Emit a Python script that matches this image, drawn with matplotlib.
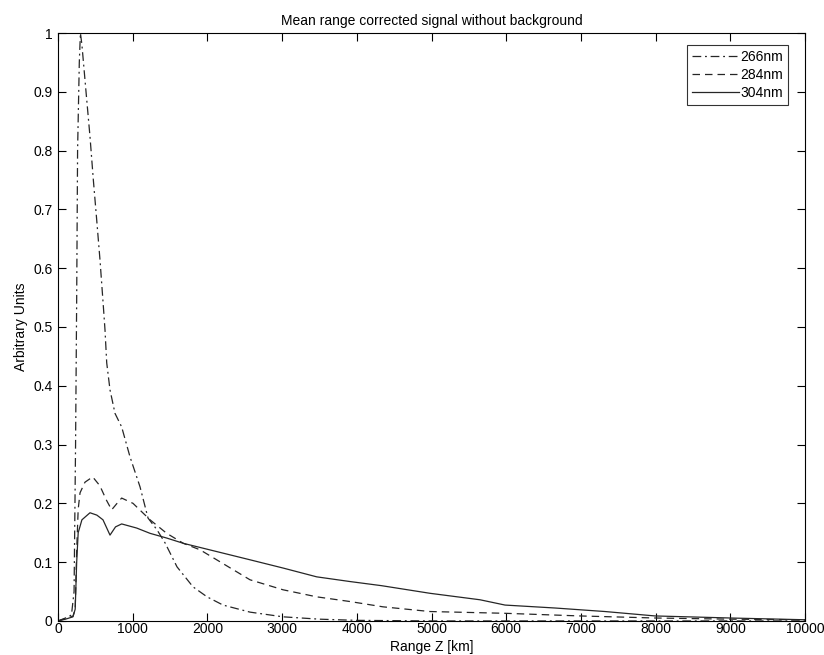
import matplotlib.pyplot as plt

plt.rcParams['font.family'] = ['Liberation Sans', 'DejaVu Sans']

# range Z [km] and mean signal
z266 = [0, 100, 180, 215, 235, 250, 262, 285, 300, 320, 375, 428, 473, 518, 562,
        607, 629, 652, 696, 763, 852, 964, 1098, 1205, 1325, 1432, 1593, 1807,
        1995, 2209, 2570, 3012, 3500, 4000, 5000, 6000, 7000, 8000, 9000, 10000]
s266 = [0.0, 0.005, 0.01, 0.05, 0.3, 0.55, 0.8, 0.95, 1.0, 0.98, 0.9, 0.824,
        0.75, 0.682, 0.614, 0.535, 0.495, 0.439, 0.393, 0.353, 0.33, 0.279,
        0.228, 0.175, 0.155, 0.133, 0.092, 0.058, 0.041, 0.027, 0.015, 0.007,
        0.003, 0.001, 0.0, 0.0, 0.0, 0.0, 0.0, 0.0]

z284 = [0, 100, 200, 230, 250, 270, 295, 361, 464, 560, 650, 718, 790, 852, 1004,
        1232, 1455, 1678, 1901, 2124, 2570, 3012, 3463, 3909, 4350, 4980, 5984,
        6988, 7992, 9000, 10000]
s284 = [0.0, 0.004, 0.008, 0.02, 0.12, 0.19, 0.218, 0.236, 0.245, 0.23, 0.205,
        0.189, 0.2, 0.209, 0.2, 0.172, 0.149, 0.132, 0.121, 0.104, 0.07, 0.053,
        0.041, 0.033, 0.024, 0.016, 0.013, 0.0085, 0.005, 0.003, 0.002]

z304 = [0, 100, 200, 230, 250, 270, 320, 428, 520, 602, 696, 770, 852, 1053, 1232,
        1455, 1678, 2124, 2570, 3012, 3463, 3909, 4330, 4980, 5649, 5984, 6653,
        7323, 7992, 9000, 10000]
s304 = [0.0, 0.003, 0.007, 0.02, 0.1, 0.15, 0.172, 0.184, 0.18, 0.172, 0.146,
        0.16, 0.165, 0.158, 0.149, 0.141, 0.132, 0.118, 0.104, 0.09, 0.075, 0.067,
        0.06, 0.047, 0.036, 0.027, 0.022, 0.016, 0.0085, 0.005, 0.002]

fig = plt.figure(figsize=(8.24, 6.55), dpi=100)
ax = fig.add_axes([0.0704, 0.052, 0.9066, 0.8976])

ax.plot(z266, s266, color='0.15', lw=0.9, dashes=[7, 3, 1.5, 3], label='266nm')
ax.plot(z284, s284, color='0.15', lw=0.9, dashes=[6, 4], label='284nm')
ax.plot(z304, s304, color='0.15', lw=0.9, label='304nm')

ax.set_xlim(0, 10000)
ax.set_ylim(0, 1)
ax.set_xticks(range(0, 10001, 1000))
ax.set_yticks([i / 10 for i in range(11)])
ax.set_yticklabels(['0'] + ['%.1f' % (i / 10) for i in range(1, 10)] + ['1'])
ax.tick_params(direction='in', top=True, right=True, length=6, width=0.8,
               labelsize=10)
ax.tick_params(axis='x', pad=1)
ax.tick_params(axis='y', pad=4)
for s in ax.spines.values():
    s.set_linewidth(0.8)

ax.set_title('Mean range corrected signal without background', fontsize=10, pad=6)
ax.set_xlabel('Range Z [km]', fontsize=10, labelpad=2.5)
ax.set_ylabel('Arbitrary Units', fontsize=10, labelpad=4)

leg = ax.legend(loc='upper right', bbox_to_anchor=(788 / 824, 1 - 45 / 655),
                bbox_transform=fig.transFigure, fontsize=10, frameon=True,
                fancybox=False, edgecolor='black', handlelength=3.4,
                borderpad=0.35, labelspacing=0.3, handletextpad=0.1,
                borderaxespad=0)
leg.get_frame().set_linewidth(0.8)

fig.savefig('out.png', dpi=100)
